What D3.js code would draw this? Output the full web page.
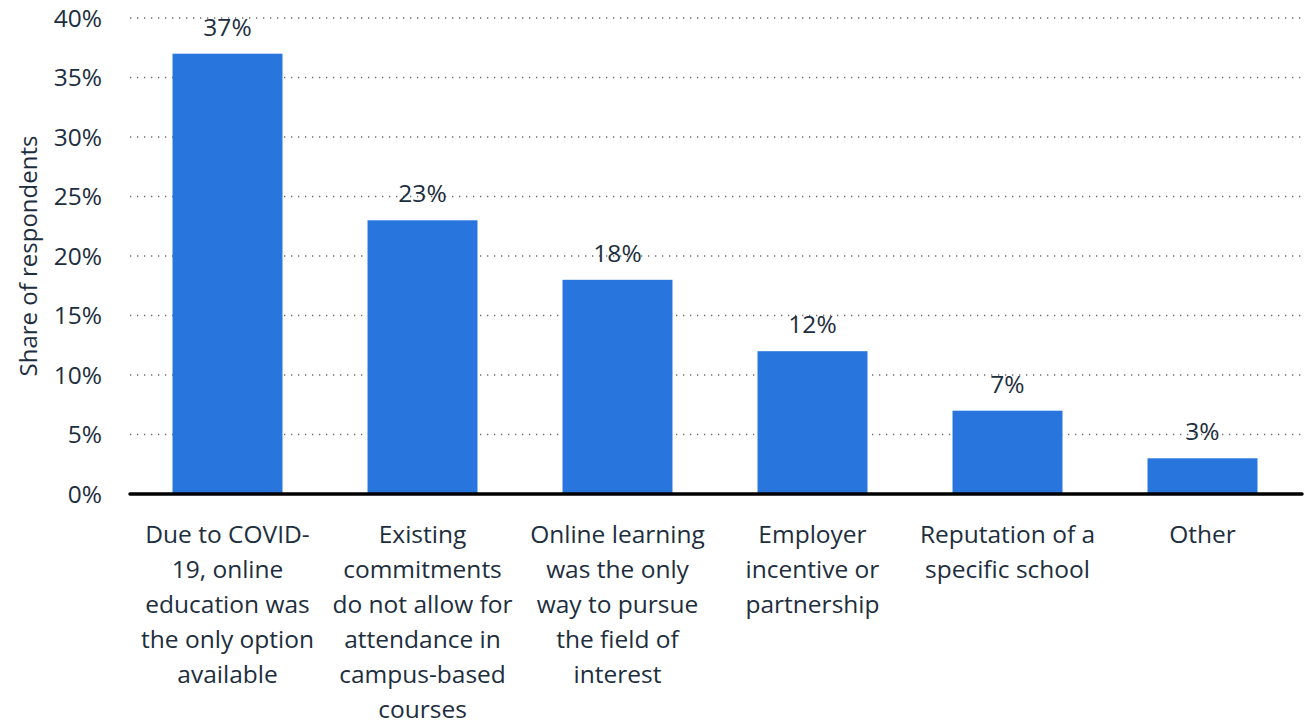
<!DOCTYPE html>
<head>
  <meta charset="utf-8">
  <script src="https://d3js.org/d3.v7.min.js"></script>
<style>
    body {
        margin: 0;
        background: #fff;
    }
    text {
        font-family: "Open Sans", sans-serif;
        fill: #1d2e3e;
    }
    .grid line {
        stroke: #6b6b6b;
        stroke-width: 1.3px;
        stroke-dasharray: 1.3 5.7;
    }
</style>
</head>

<body>
  <script>

var categories = [
    "Due to COVID-\n19, online\neducation was\nthe only option\navailable",
    "Existing\ncommitments\ndo not allow for\nattendance in\ncampus-based\ncourses",
    "Online learning\nwas the only\nway to pursue\nthe field of\ninterest",
    "Employer\nincentive or\npartnership",
    "Reputation of a\nspecific school",
    "Other"
];
var shares = [37, 23, 18, 12, 7, 3];
var yTicks = [0, 5, 10, 15, 20, 25, 30, 35, 40];
var yTitle = "Share of respondents";

var width = 1306;
var height = 724;
var plotLeft = 130, plotRight = 1300, plotTop = 18, plotBottom = 494;

var svg = d3.select("body")
    .append("svg")
    .attr("width", width)
    .attr("height", height);

var x = d3.scaleBand()
    .domain(d3.range(categories.length))
    .range([plotLeft, plotRight])
    .paddingInner(0.436)
    .paddingOuter(0.218);

var y = d3.scaleLinear()
    .domain([0, 40])
    .range([plotBottom, plotTop]);

// dotted gridlines
svg.append("g")
    .attr("class", "grid")
    .selectAll("line")
    .data(yTicks.slice(1))
    .enter()
    .append("line")
    .attr("x1", plotLeft)
    .attr("x2", 1303)
    .attr("y1", function (d) { return y(d); })
    .attr("y2", function (d) { return y(d); });

// y tick labels
svg.append("g")
    .selectAll("text")
    .data(yTicks)
    .enter()
    .append("text")
    .attr("x", 102)
    .attr("y", function (d) { return y(d); })
    .attr("dy", "0.36em")
    .attr("text-anchor", "end")
    .style("font-size", "24.5px")
    .text(function (d) { return d + "%"; });

svg.append("text")
    .attr("transform", "translate(37," + ((plotTop + plotBottom) / 2) + ") rotate(-90)")
    .attr("text-anchor", "middle")
    .style("font-size", "24px")
    .text(yTitle);

// bars
svg.append("g")
    .selectAll("rect")
    .data(shares)
    .enter()
    .append("rect")
    .attr("x", function (d, i) { return x(i); })
    .attr("width", x.bandwidth())
    .attr("y", function (d) { return y(d); })
    .attr("height", function (d) { return y(0) - y(d); })
    .style("fill", "#2876dd");

// value labels
svg.append("g")
    .selectAll("text")
    .data(shares)
    .enter()
    .append("text")
    .attr("x", function (d, i) { return x(i) + x.bandwidth() / 2; })
    .attr("y", function (d) { return y(d) - 18; })
    .attr("text-anchor", "middle")
    .style("font-size", "24.5px")
    .text(function (d) { return d + "%"; });

// baseline
svg.append("line")
    .attr("x1", 130)
    .attr("x2", 1302)
    .attr("y1", y(0))
    .attr("y2", y(0))
    .style("stroke", "#000")
    .style("stroke-width", 3.5)
    .style("stroke-linecap", "round");

// category labels
var labels = svg.append("g")
    .selectAll("text")
    .data(categories)
    .enter()
    .append("text")
    .attr("x", function (d, i) { return x(i) + x.bandwidth() / 2; })
    .attr("y", 543)
    .attr("text-anchor", "middle")
    .style("font-size", "24.5px");

labels.selectAll("tspan")
    .data(function (d) { return d.split("\n"); })
    .enter()
    .append("tspan")
    .attr("x", function () { return d3.select(this.parentNode).attr("x"); })
    .attr("dy", function (d, i) { return i === 0 ? 0 : 35; })
    .text(function (d) { return d; });

  </script>
</body>
